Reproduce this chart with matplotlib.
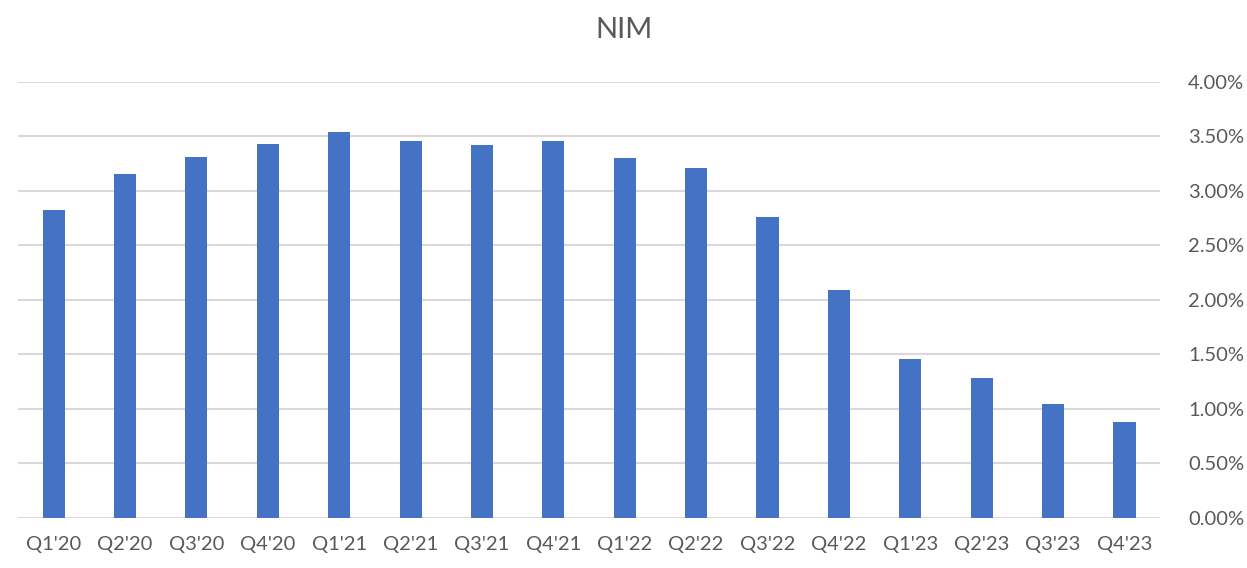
import matplotlib
matplotlib.use("Agg")
import matplotlib.pyplot as plt
from matplotlib.ticker import FuncFormatter, MultipleLocator

# data (NIM in %)
quarters = ["Q1'20", "Q2'20", "Q3'20", "Q4'20", "Q1'21", "Q2'21", "Q3'21", "Q4'21",
            "Q1'22", "Q2'22", "Q3'22", "Q4'22", "Q1'23", "Q2'23", "Q3'23", "Q4'23"]
nim = [2.82, 3.15, 3.31, 3.43, 3.54, 3.46, 3.42, 3.46,
       3.30, 3.21, 2.76, 2.09, 1.46, 1.28, 1.05, 0.88]

plt.rcParams['font.family'] = ['Lato', 'DejaVu Sans']
text_color = '#595959'

fig = plt.figure(figsize=(12.47, 5.68), dpi=100)
ax = fig.add_axes([0.0144, 0.088, 0.916, 0.768])

x = range(len(quarters))
ax.bar(x, nim, width=0.31, color='#4472C4', zorder=3)

ax.set_xlim(-0.5, len(quarters) - 0.5)
ax.set_ylim(0, 4.0)
ax.yaxis.set_major_locator(MultipleLocator(0.5))
ax.yaxis.set_major_formatter(FuncFormatter(lambda v, p: f"{v:.2f}%"))
ax.yaxis.tick_right()

ax.set_xticks(list(x))
ax.set_xticklabels(quarters)

ax.grid(axis='y', color='#d9d9d9', linewidth=1.5, zorder=0)
for s in ax.spines.values():
    s.set_visible(False)
ax.tick_params(axis='both', length=0, labelsize=14.5, colors=text_color)
ax.tick_params(axis='x', pad=13)
ax.tick_params(axis='y', pad=20)

fig.text(0.5, 0.948, "NIM", ha='center', va='center', fontsize=21, color=text_color)

fig.savefig("out.png", dpi=100)
